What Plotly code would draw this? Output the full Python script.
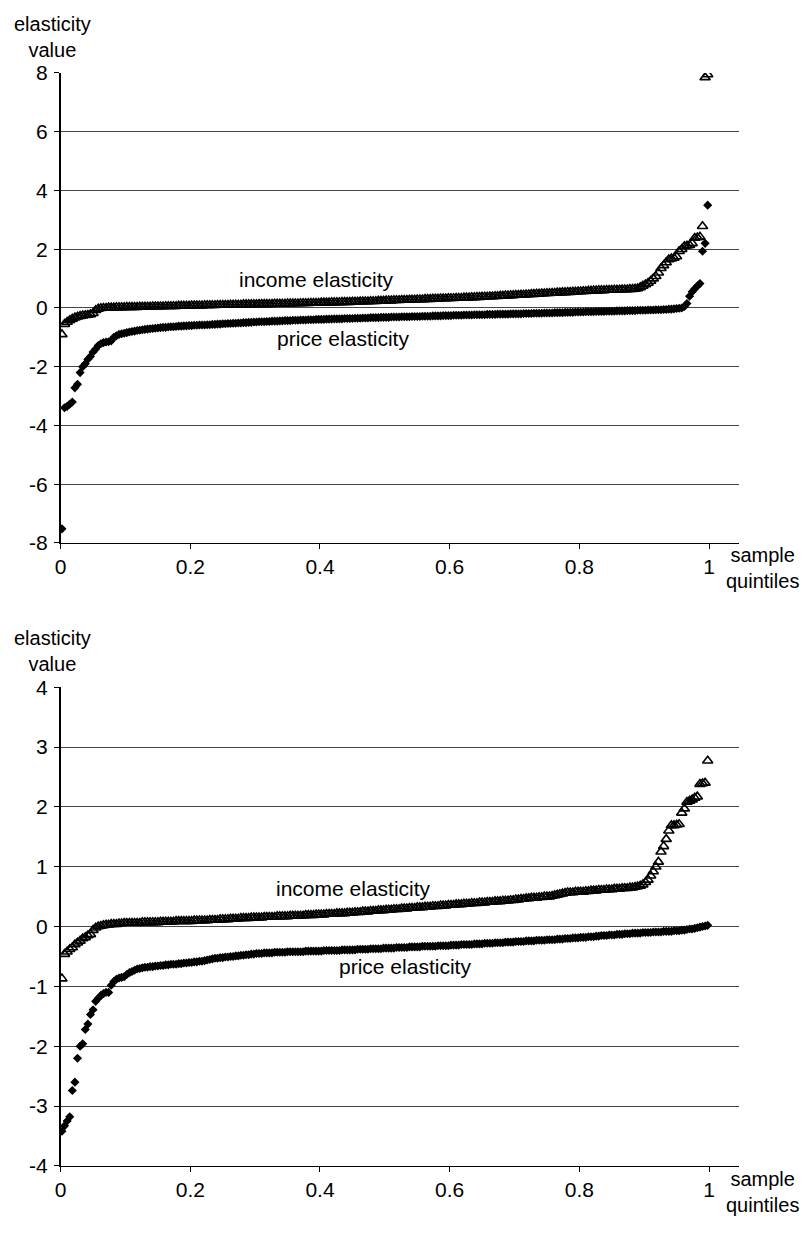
import plotly.graph_objects as go

# ---------------- data ----------------
N_POINTS = 250
sample_quantiles = [round((i + 0.5) / N_POINTS, 4) for i in range(N_POINTS)]

top_price = [
    -7.52, -3.40, -3.35, -3.28, -3.20, -2.72, -2.60, -2.20, -2.00, -1.90,
    -1.75, -1.65, -1.50, -1.40, -1.28, -1.22, -1.18, -1.16, -1.15, -1.12,
    -1.00, -0.95, -0.90, -0.88, -0.86, -0.84, -0.82, -0.80, -0.79, -0.77,
    -0.76, -0.74, -0.73, -0.72, -0.71, -0.70, -0.69, -0.68, -0.67, -0.66,
    -0.66, -0.65, -0.64, -0.64, -0.63, -0.62, -0.62, -0.61, -0.61, -0.60,
    -0.60, -0.59, -0.59, -0.58, -0.58, -0.58, -0.57, -0.57, -0.56, -0.56,
    -0.55, -0.55, -0.54, -0.54, -0.53, -0.53, -0.52, -0.52, -0.51, -0.51,
    -0.50, -0.50, -0.49, -0.49, -0.48, -0.48, -0.47, -0.47, -0.47, -0.46,
    -0.46, -0.45, -0.45, -0.45, -0.44, -0.44, -0.43, -0.43, -0.43, -0.42,
    -0.42, -0.42, -0.41, -0.41, -0.41, -0.40, -0.40, -0.40, -0.39, -0.39,
    -0.39, -0.39, -0.38, -0.38, -0.38, -0.37, -0.37, -0.37, -0.37, -0.36,
    -0.36, -0.36, -0.36, -0.35, -0.35, -0.35, -0.34, -0.34, -0.34, -0.33,
    -0.33, -0.33, -0.33, -0.32, -0.32, -0.32, -0.32, -0.31, -0.31, -0.31,
    -0.31, -0.30, -0.30, -0.30, -0.30, -0.29, -0.29, -0.29, -0.29, -0.28,
    -0.28, -0.28, -0.28, -0.27, -0.27, -0.27, -0.27, -0.26, -0.26, -0.26,
    -0.26, -0.25, -0.25, -0.25, -0.25, -0.24, -0.24, -0.24, -0.24, -0.23,
    -0.23, -0.23, -0.23, -0.23, -0.22, -0.22, -0.22, -0.22, -0.21, -0.21,
    -0.21, -0.21, -0.21, -0.20, -0.20, -0.20, -0.20, -0.20, -0.19, -0.19,
    -0.19, -0.19, -0.18, -0.18, -0.18, -0.18, -0.17, -0.17, -0.17, -0.17,
    -0.16, -0.16, -0.16, -0.16, -0.15, -0.15, -0.15, -0.15, -0.14, -0.14,
    -0.14, -0.14, -0.13, -0.13, -0.13, -0.13, -0.12, -0.12, -0.12, -0.12,
    -0.11, -0.11, -0.11, -0.11, -0.10, -0.10, -0.10, -0.10, -0.09, -0.09,
    -0.09, -0.09, -0.08, -0.08, -0.08, -0.08, -0.07, -0.07, -0.07, -0.06,
    -0.06, -0.06, -0.05, -0.05, -0.04, -0.04, -0.03, -0.02, -0.01, 0.00,
    0.05, 0.15, 0.40, 0.55, 0.65, 0.75, 0.83, 1.93, 2.20, 3.50,
]

top_income = [
    -0.90, -0.55, -0.48, -0.42, -0.37, -0.33, -0.30, -0.28, -0.26, -0.25,
    -0.24, -0.22, -0.18, -0.08, -0.03, -0.01, 0.00, 0.00, 0.01, 0.01,
    0.01, 0.02, 0.02, 0.02, 0.02, 0.03, 0.03, 0.03, 0.03, 0.03,
    0.04, 0.04, 0.04, 0.04, 0.04, 0.05, 0.05, 0.05, 0.05, 0.05,
    0.06, 0.06, 0.06, 0.06, 0.06, 0.07, 0.07, 0.07, 0.07, 0.07,
    0.08, 0.08, 0.08, 0.08, 0.08, 0.09, 0.09, 0.09, 0.09, 0.09,
    0.10, 0.10, 0.10, 0.10, 0.10, 0.11, 0.11, 0.11, 0.11, 0.11,
    0.12, 0.12, 0.12, 0.12, 0.12, 0.12, 0.13, 0.13, 0.13, 0.13,
    0.13, 0.13, 0.14, 0.14, 0.14, 0.14, 0.14, 0.15, 0.15, 0.15,
    0.15, 0.15, 0.16, 0.16, 0.16, 0.16, 0.17, 0.17, 0.17, 0.17,
    0.18, 0.18, 0.18, 0.18, 0.19, 0.19, 0.19, 0.19, 0.20, 0.20,
    0.20, 0.20, 0.21, 0.21, 0.21, 0.22, 0.22, 0.22, 0.22, 0.23,
    0.23, 0.23, 0.24, 0.24, 0.24, 0.25, 0.25, 0.25, 0.26, 0.26,
    0.26, 0.27, 0.27, 0.27, 0.28, 0.28, 0.28, 0.29, 0.29, 0.29,
    0.30, 0.30, 0.30, 0.31, 0.31, 0.31, 0.32, 0.32, 0.32, 0.33,
    0.33, 0.33, 0.34, 0.34, 0.34, 0.35, 0.35, 0.35, 0.36, 0.36,
    0.37, 0.37, 0.38, 0.38, 0.38, 0.39, 0.39, 0.40, 0.40, 0.41,
    0.41, 0.42, 0.42, 0.43, 0.43, 0.44, 0.44, 0.45, 0.45, 0.46,
    0.46, 0.47, 0.47, 0.48, 0.48, 0.49, 0.49, 0.50, 0.50, 0.51,
    0.51, 0.52, 0.52, 0.53, 0.53, 0.54, 0.54, 0.55, 0.55, 0.56,
    0.56, 0.57, 0.57, 0.58, 0.58, 0.59, 0.59, 0.60, 0.60, 0.60,
    0.61, 0.61, 0.61, 0.62, 0.62, 0.62, 0.63, 0.63, 0.63, 0.64,
    0.64, 0.65, 0.66, 0.70, 0.75, 0.80, 0.85, 0.92, 1.00, 1.08,
    1.20, 1.35, 1.45, 1.55, 1.65, 1.68, 1.70, 1.75, 1.93, 2.00,
    2.10, 2.12, 2.14, 2.20, 2.38, 2.40, 2.42, 2.78, 7.85, 7.95,
]

bottom_price = [
    -3.42, -3.33, -3.25, -3.18, -2.74, -2.60, -2.20, -2.00, -1.96, -1.72,
    -1.63, -1.47, -1.39, -1.25, -1.20, -1.15, -1.12, -1.10, -1.10, -0.98,
    -0.92, -0.88, -0.86, -0.85, -0.84, -0.80, -0.77, -0.75, -0.73, -0.71,
    -0.70, -0.69, -0.68, -0.68, -0.67, -0.67, -0.66, -0.66, -0.65, -0.65,
    -0.64, -0.64, -0.63, -0.63, -0.63, -0.62, -0.62, -0.61, -0.61, -0.60,
    -0.60, -0.59, -0.59, -0.58, -0.58, -0.57, -0.56, -0.55, -0.54, -0.53,
    -0.53, -0.52, -0.52, -0.51, -0.51, -0.50, -0.50, -0.49, -0.49, -0.48,
    -0.48, -0.47, -0.47, -0.46, -0.46, -0.45, -0.45, -0.45, -0.44, -0.44,
    -0.44, -0.44, -0.43, -0.43, -0.43, -0.43, -0.43, -0.42, -0.42, -0.42,
    -0.42, -0.42, -0.42, -0.42, -0.41, -0.41, -0.41, -0.41, -0.41, -0.41,
    -0.41, -0.40, -0.40, -0.40, -0.40, -0.40, -0.40, -0.40, -0.39, -0.39,
    -0.39, -0.39, -0.39, -0.39, -0.38, -0.38, -0.38, -0.38, -0.38, -0.37,
    -0.37, -0.37, -0.37, -0.37, -0.36, -0.36, -0.36, -0.36, -0.36, -0.35,
    -0.35, -0.35, -0.35, -0.35, -0.34, -0.34, -0.34, -0.34, -0.34, -0.33,
    -0.33, -0.33, -0.33, -0.33, -0.33, -0.32, -0.32, -0.32, -0.32, -0.32,
    -0.31, -0.31, -0.31, -0.31, -0.30, -0.30, -0.30, -0.30, -0.30, -0.29,
    -0.29, -0.29, -0.29, -0.28, -0.28, -0.28, -0.28, -0.27, -0.27, -0.27,
    -0.27, -0.26, -0.26, -0.26, -0.26, -0.25, -0.25, -0.25, -0.25, -0.24,
    -0.24, -0.24, -0.24, -0.23, -0.23, -0.23, -0.23, -0.22, -0.22, -0.22,
    -0.22, -0.21, -0.21, -0.21, -0.20, -0.20, -0.20, -0.19, -0.19, -0.19,
    -0.18, -0.18, -0.18, -0.17, -0.17, -0.17, -0.16, -0.16, -0.15, -0.15,
    -0.15, -0.14, -0.14, -0.14, -0.13, -0.13, -0.13, -0.12, -0.12, -0.12,
    -0.11, -0.11, -0.11, -0.11, -0.10, -0.10, -0.10, -0.10, -0.09, -0.09,
    -0.09, -0.09, -0.08, -0.08, -0.08, -0.08, -0.07, -0.07, -0.07, -0.06,
    -0.06, -0.05, -0.04, -0.04, -0.03, -0.02, -0.01, 0.00, 0.01, 0.02,
]

bottom_income = [
    -0.87, -0.46, -0.42, -0.38, -0.35, -0.30, -0.27, -0.24, -0.20, -0.18,
    -0.15, -0.13, -0.06, -0.02, 0.00, 0.01, 0.02, 0.03, 0.03, 0.04,
    0.04, 0.04, 0.05, 0.05, 0.06, 0.06, 0.06, 0.06, 0.06, 0.06,
    0.06, 0.07, 0.07, 0.07, 0.07, 0.07, 0.07, 0.07, 0.08, 0.08,
    0.08, 0.08, 0.08, 0.08, 0.09, 0.09, 0.09, 0.09, 0.09, 0.09,
    0.09, 0.10, 0.10, 0.10, 0.10, 0.10, 0.10, 0.11, 0.11, 0.11,
    0.11, 0.12, 0.12, 0.12, 0.12, 0.13, 0.13, 0.13, 0.13, 0.14,
    0.14, 0.14, 0.14, 0.15, 0.15, 0.15, 0.15, 0.15, 0.16, 0.16,
    0.16, 0.16, 0.16, 0.17, 0.17, 0.17, 0.17, 0.17, 0.18, 0.18,
    0.18, 0.18, 0.18, 0.18, 0.19, 0.19, 0.19, 0.19, 0.20, 0.20,
    0.20, 0.20, 0.21, 0.21, 0.21, 0.21, 0.22, 0.22, 0.22, 0.22,
    0.23, 0.23, 0.23, 0.24, 0.24, 0.24, 0.25, 0.25, 0.25, 0.26,
    0.26, 0.26, 0.27, 0.27, 0.27, 0.28, 0.28, 0.28, 0.29, 0.29,
    0.29, 0.30, 0.30, 0.30, 0.31, 0.31, 0.31, 0.32, 0.32, 0.32,
    0.33, 0.33, 0.33, 0.34, 0.34, 0.34, 0.35, 0.35, 0.35, 0.36,
    0.36, 0.36, 0.37, 0.37, 0.37, 0.38, 0.38, 0.38, 0.39, 0.39,
    0.39, 0.40, 0.40, 0.40, 0.41, 0.41, 0.41, 0.42, 0.42, 0.42,
    0.43, 0.43, 0.43, 0.44, 0.44, 0.45, 0.45, 0.46, 0.46, 0.47,
    0.47, 0.48, 0.48, 0.48, 0.49, 0.49, 0.50, 0.50, 0.50, 0.51,
    0.52, 0.53, 0.54, 0.55, 0.56, 0.57, 0.57, 0.57, 0.58, 0.58,
    0.58, 0.58, 0.59, 0.59, 0.60, 0.60, 0.60, 0.61, 0.61, 0.61,
    0.62, 0.62, 0.62, 0.63, 0.63, 0.63, 0.64, 0.64, 0.64, 0.65,
    0.65, 0.66, 0.67, 0.68, 0.70, 0.74, 0.78, 0.85, 0.92, 1.00,
    1.08, 1.25, 1.34, 1.46, 1.60, 1.69, 1.69, 1.70, 1.71, 1.90,
    1.97, 2.08, 2.10, 2.12, 2.15, 2.17, 2.38, 2.39, 2.40, 2.77,
]

x_tickvals = [0, 0.2, 0.4, 0.6, 0.8, 1]
x_ticktext = ["0", "0.2", "0.4", "0.6", "0.8", "1"]
top_y_ticks = [-8, -6, -4, -2, 0, 2, 4, 6, 8]
top_y_ticktext = ["-8", "-6", "-4", "-2", "0", "2", "4", "6", "8"]
bottom_y_ticks = [-4, -3, -2, -1, 0, 1, 2, 3, 4]
bottom_y_ticktext = ["-4", "-3", "-2", "-1", "0", "1", "2", "3", "4"]

# ---------------- layout helpers ----------------
# the page body has an 8px default margin on every side; keep the figure
# inside the window so that no scrollbars appear
OFF = 8
W, H = 810 - 2 * OFF, 1234 - 2 * OFF
FONT = "Liberation Sans, Arial, sans-serif"
FS = 21


def px(xp):
    return (xp - OFF) / W


def py(yp):
    return 1 - (yp - OFF) / H


price_marker = dict(symbol="diamond", size=7, color="black", line=dict(width=0))
income_marker = dict(symbol="triangle-up-open", size=9, color="black",
                     line=dict(width=1.6, color="black"))

fig = go.Figure()
fig.add_trace(go.Scatter(x=sample_quantiles, y=top_price, mode="markers", marker=price_marker,
                         xaxis="x", yaxis="y", showlegend=False))
fig.add_trace(go.Scatter(x=sample_quantiles, y=top_income, mode="markers", marker=income_marker,
                         xaxis="x", yaxis="y", showlegend=False))
fig.add_trace(go.Scatter(x=sample_quantiles, y=bottom_price, mode="markers", marker=price_marker,
                         xaxis="x2", yaxis="y2", showlegend=False))
fig.add_trace(go.Scatter(x=sample_quantiles, y=bottom_income, mode="markers", marker=income_marker,
                         xaxis="x2", yaxis="y2", showlegend=False))

xaxis_common = dict(
    range=[0, 1.047], tickvals=x_tickvals, ticktext=x_ticktext,
    showgrid=False, zeroline=False, showline=True, linecolor="black", linewidth=1,
    ticks="outside", ticklen=5, tickcolor="black", tickwidth=1,
    tickfont=dict(family=FONT, size=FS, color="black"),
)
yaxis_common = dict(
    showgrid=True, gridcolor="#444444", gridwidth=1, zeroline=False,
    showline=True, linecolor="black", linewidth=1.5,
    ticks="outside", ticklen=5, tickcolor="black", tickwidth=1,
    tickfont=dict(family=FONT, size=FS, color="black"),
    ticklabelstandoff=2,
)

x_dom = [px(55), px(739)]
fig.update_layout(
    width=W, height=H,
    margin=dict(l=0, r=0, t=0, b=0),
    paper_bgcolor="white", plot_bgcolor="white",
    font=dict(family=FONT, size=FS, color="black"),
    xaxis=dict(domain=x_dom, anchor="y", **xaxis_common),
    yaxis=dict(domain=[py(541), py(62)], anchor="x", range=[-8, 8],
               tickvals=top_y_ticks, ticktext=top_y_ticktext, **yaxis_common),
    xaxis2=dict(domain=x_dom, anchor="y2", **xaxis_common),
    yaxis2=dict(domain=[py(1176), py(688)], anchor="x2", range=[-4, 4],
                tickvals=bottom_y_ticks, ticktext=bottom_y_ticktext, **yaxis_common),
)

title_font = dict(family=FONT, size=20, color="black")
for xp, yp in [(47, 25), (47, 651)]:
    fig.add_annotation(x=px(xp), y=py(yp), xref="paper", yref="paper", text="elasticity<br>value",
                       showarrow=False, xanchor="center", yanchor="middle", align="center",
                       font=title_font)

center_notes = [
    (313, 273, "income elasticity"),
    (340, 333, "price elasticity"),
    (350, 893, "income elasticity"),
    (402, 973, "price elasticity"),
]
for xp, yp, txt in center_notes:
    fig.add_annotation(x=px(xp), y=py(yp), xref="paper", yref="paper", text=txt,
                       showarrow=False, xanchor="center", yanchor="middle", align="center",
                       font=dict(family=FONT, size=FS, color="black"))

right_notes = [
    (801, 567, "sample<br>quintiles"),
    (801, 1203, "sample<br>quintiles"),
]
for xp, yp, txt in right_notes:
    fig.add_annotation(x=px(xp), y=py(yp), xref="paper", yref="paper", text=txt,
                       showarrow=False, xanchor="right", yanchor="middle", align="center",
                       font=title_font)

fig.write_html("out.html")
